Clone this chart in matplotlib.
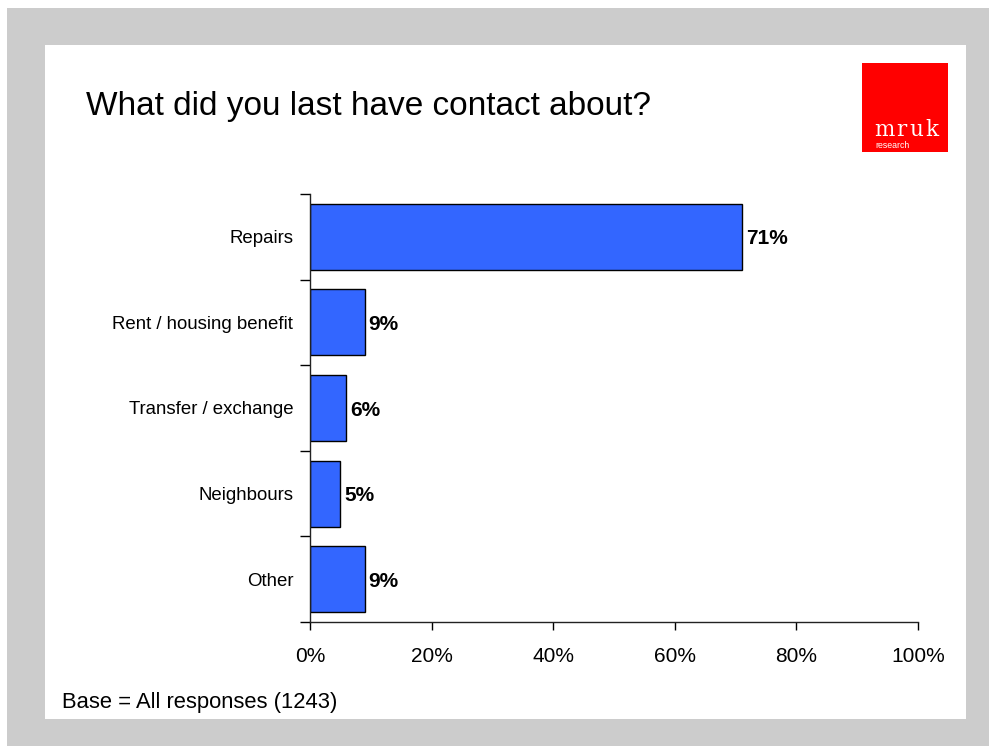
import matplotlib
matplotlib.use("Agg")
import matplotlib.pyplot as plt
from matplotlib.patches import Rectangle

categories = ["Repairs", "Rent / housing benefit", "Transfer / exchange", "Neighbours", "Other"]
values = [71, 9, 6, 5, 9]
xticks = [0, 20, 40, 60, 80, 100]
xticklabels = ["0%", "20%", "40%", "60%", "80%", "100%"]

plt.rcParams["font.family"] = ["Liberation Sans", "DejaVu Sans"]

W, H = 989, 746
fig = plt.figure(figsize=(W / 100, H / 100), dpi=100)
fig.patch.set_facecolor("white")


def fx(px):
    return px / W


def fy(py):
    return 1 - py / H


# grey frame and white slide
fig.patches.append(Rectangle((fx(7), fy(746)), fx(989 - 7), (746 - 8) / H,
                             transform=fig.transFigure, facecolor="#cccccc", edgecolor="none", zorder=-3))
fig.patches.append(Rectangle((fx(45), fy(719)), fx(966 - 45), (719 - 45) / H,
                             transform=fig.transFigure, facecolor="white", edgecolor="none", zorder=-2))

# logo: red square with spaced serif lettering
fig.patches.append(Rectangle((fx(862), fy(152)), fx(948 - 862), (152 - 63) / H,
                             transform=fig.transFigure, facecolor="#ff0000", edgecolor="none", zorder=-1))
for letter, xp in zip("mruk", [874, 896.5, 909.5, 925.5]):
    fig.text(fx(xp), fy(136), letter, color="white", fontsize=15.5, family="DejaVu Serif",
             ha="left", va="baseline")
fig.text(fx(875), fy(147.5), "research", color="white", fontsize=6.3, ha="left", va="baseline")

# title and footnote
fig.text(fx(86), fy(115), "What did you last have contact about?", fontsize=24, ha="left", va="baseline")
fig.text(fx(62), fy(708), "Base = All responses (1243)", fontsize=15.8, ha="left", va="baseline")

# chart area
ax = fig.add_axes([fx(310), fy(622), fx(918 - 310), (622 - 194) / H])
ax.set_facecolor("none")
n = len(categories)
ypos = list(range(n))
ax.barh(ypos, values, height=0.77, color="#3366ff", edgecolor="black", linewidth=1.0, zorder=2)
for y, v in zip(ypos, values):
    ax.annotate(f"{v}%", (v, y), xytext=(4, -7.5), textcoords="offset pixels",
                fontsize=15, fontweight="bold", ha="left", va="baseline")

ax.set_ylim(n - 0.5, -0.5)
ax.set_xlim(0, 100)
ax.set_xticks(xticks)
ax.set_xticklabels(xticklabels, fontsize=15)
ax.tick_params(axis="x", direction="out", length=6, width=1, pad=12, colors="black")

# category boundaries carry outward ticks; labels sit at category centres
ax.set_yticks([i - 0.5 for i in range(n + 1)])
ax.set_yticklabels([])
ax.tick_params(axis="y", which="major", direction="out", length=7, width=1)
ax.set_yticks(ypos, minor=True)
ax.set_yticklabels(categories, minor=True, fontsize=13.4)
ax.tick_params(axis="y", which="minor", direction="in", length=5, width=1, pad=12)

for s in ["top", "right"]:
    ax.spines[s].set_visible(False)
for s in ["left", "bottom"]:
    ax.spines[s].set_linewidth(1)
    ax.spines[s].set_color("#222222")

fig.savefig("out.png", dpi=100)
